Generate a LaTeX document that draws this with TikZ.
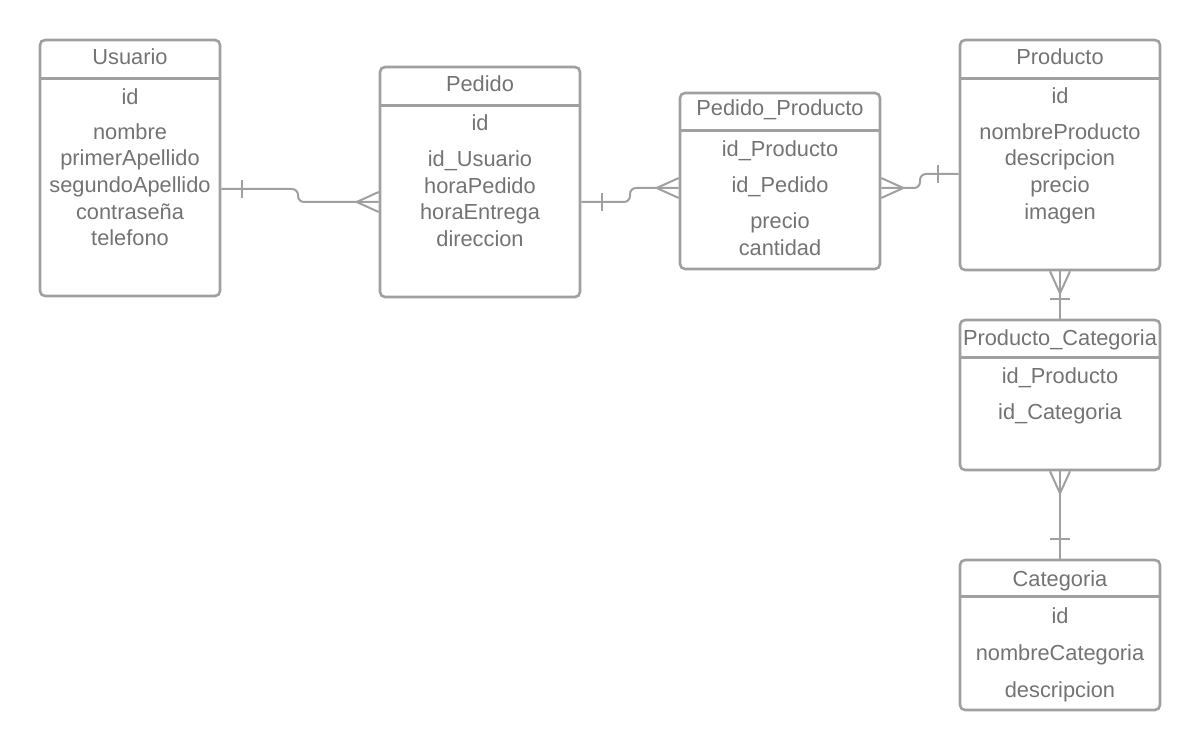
\documentclass[tikz,border=0pt]{standalone}
\usepackage{fontspec}
\setmainfont{Liberation Sans}
\usepackage{tikz}

\definecolor{texto}{HTML}{737373}
\definecolor{borde}{HTML}{A0A0A0}

\tikzset{
  tabla/.style={draw=borde, line width=2.6pt, rounded corners=5pt, inner sep=0pt},
  campo/.style={text=texto, anchor=base, inner sep=0pt, font=\fontsize{21.8}{25}\selectfont},
  cabeza/.style={draw=borde, line width=2.6pt},
  rel/.style={draw=borde, line width=2pt}
}

\begin{document}
\begin{tikzpicture}[x=1pt, y=-1pt]
    \useasboundingbox (0,0) rectangle (1200,751);

    % Tablas
    \node[tabla, minimum width=180pt, minimum height=256pt] (usuario) at (130,168) {};
    \node[tabla, minimum width=200pt, minimum height=230pt] (pedido) at (480,182) {};
    \node[tabla, minimum width=200pt, minimum height=176pt] (pedprod) at (780,181) {};
    \node[tabla, minimum width=200pt, minimum height=230pt] (producto) at (1060,155) {};
    \node[tabla, minimum width=200pt, minimum height=150pt] (prodcat) at (1060,395) {};
    \node[tabla, minimum width=200pt, minimum height=150pt] (categoria) at (1060,635) {};

    % Cabeceras
    \draw[cabeza] ([yshift=-40pt]usuario.north west) -- ([yshift=-40pt]usuario.north east);
    \draw[cabeza] ([yshift=-40pt]pedido.north west) -- ([yshift=-40pt]pedido.north east);
    \draw[cabeza] ([yshift=-39pt]pedprod.north west) -- ([yshift=-39pt]pedprod.north east);
    \draw[cabeza] ([yshift=-40pt]producto.north west) -- ([yshift=-40pt]producto.north east);
    \draw[cabeza] ([yshift=-39pt]prodcat.north west) -- ([yshift=-39pt]prodcat.north east);
    \draw[cabeza] ([yshift=-38pt]categoria.north west) -- ([yshift=-38pt]categoria.north east);

    % Usuario
    \node[campo] (u0) at (130,65) {Usuario};
    \node[campo] (u1) at (130,105) {id};
    \node[campo] (u2) at (130,140) {nombre};
    \node[campo] (u3) at (130,166) {primerApellido};
    \node[campo] (u4) at (130,193) {segundoApellido};
    \node[campo] (u5) at (130,220) {contraseña};
    \node[campo] (u6) at (130,246) {telefono};

    % Pedido
    \node[campo] (p0) at (480,92) {Pedido};
    \node[campo] (p1) at (480,131) {id};
    \node[campo] (p2) at (480,167) {id\_Usuario};
    \node[campo] (p3) at (480,194) {horaPedido};
    \node[campo] (p4) at (480,220) {horaEntrega};
    \node[campo] (p5) at (480,247) {direccion};

    % Pedido_Producto
    \node[campo] (pp0) at (780,116) {Pedido\_Producto};
    \node[campo] (pp1) at (780,157) {id\_Producto};
    \node[campo] (pp2) at (780,193) {id\_Pedido};
    \node[campo] (pp3) at (780,229) {precio};
    \node[campo] (pp4) at (780,256) {cantidad};

    % Producto
    \node[campo] (r0) at (1060,65) {Producto};
    \node[campo] (r1) at (1060,104) {id};
    \node[campo] (r2) at (1060,140) {nombreProducto};
    \node[campo] (r3) at (1060,166) {descripcion};
    \node[campo] (r4) at (1060,193) {precio};
    \node[campo] (r5) at (1060,220) {imagen};

    % Producto_Categoria
    \node[campo] (pc0) at (1060,346) {Producto\_Categoria};
    \node[campo] (pc1) at (1060,384) {id\_Producto};
    \node[campo] (pc2) at (1060,420) {id\_Categoria};

    % Categoria
    \node[campo] (c0) at (1060,586) {Categoria};
    \node[campo] (c1) at (1060,623) {id};
    \node[campo] (c2) at (1060,660) {nombreCategoria};
    \node[campo] (c3) at (1060,697) {descripcion};

    % Relaciones
    \coordinate (ua) at ([yshift=-21pt]usuario.east);
    \coordinate (pa) at ([yshift=-20pt]pedido.west);
    \draw[rel, rounded corners=6pt] (ua) -- (298,189) -- (298,202) -- (pa);
    \draw[rel] (242,180) -- (242,198);
    \draw[rel] (pa) ++(0,-10) -- ++(-22,10) -- ++(22,10);

    \coordinate (pb) at ([yshift=-20pt]pedido.east);
    \coordinate (ppa) at ([yshift=-7pt]pedprod.west);
    \draw[rel, rounded corners=6pt] (pb) -- (630,202) -- (630,188) -- (ppa);
    \draw[rel] (602,193) -- (602,211);
    \draw[rel] (ppa) ++(0,-10) -- ++(-22,10) -- ++(22,10);

    \coordinate (ppb) at ([yshift=-7pt]pedprod.east);
    \coordinate (ra) at ([yshift=-19pt]producto.west);
    \draw[rel, rounded corners=6pt] (ppb) -- (920,188) -- (920,174) -- (ra);
    \draw[rel] (938,165) -- (938,183);
    \draw[rel] (ppb) ++(0,-10) -- ++(22,10) -- ++(-22,10);

    \draw[rel] (producto.south) -- (prodcat.north);
    \draw[rel] (producto.south) ++(-10,0) -- ++(10,22) -- ++(10,-22);
    \draw[rel] (1050,299) -- (1070,299);

    \draw[rel] (prodcat.south) -- (categoria.north);
    \draw[rel] (prodcat.south) ++(-10,0) -- ++(10,22) -- ++(10,-22);
    \draw[rel] (1050,539) -- (1070,539);

\end{tikzpicture}
\end{document}
